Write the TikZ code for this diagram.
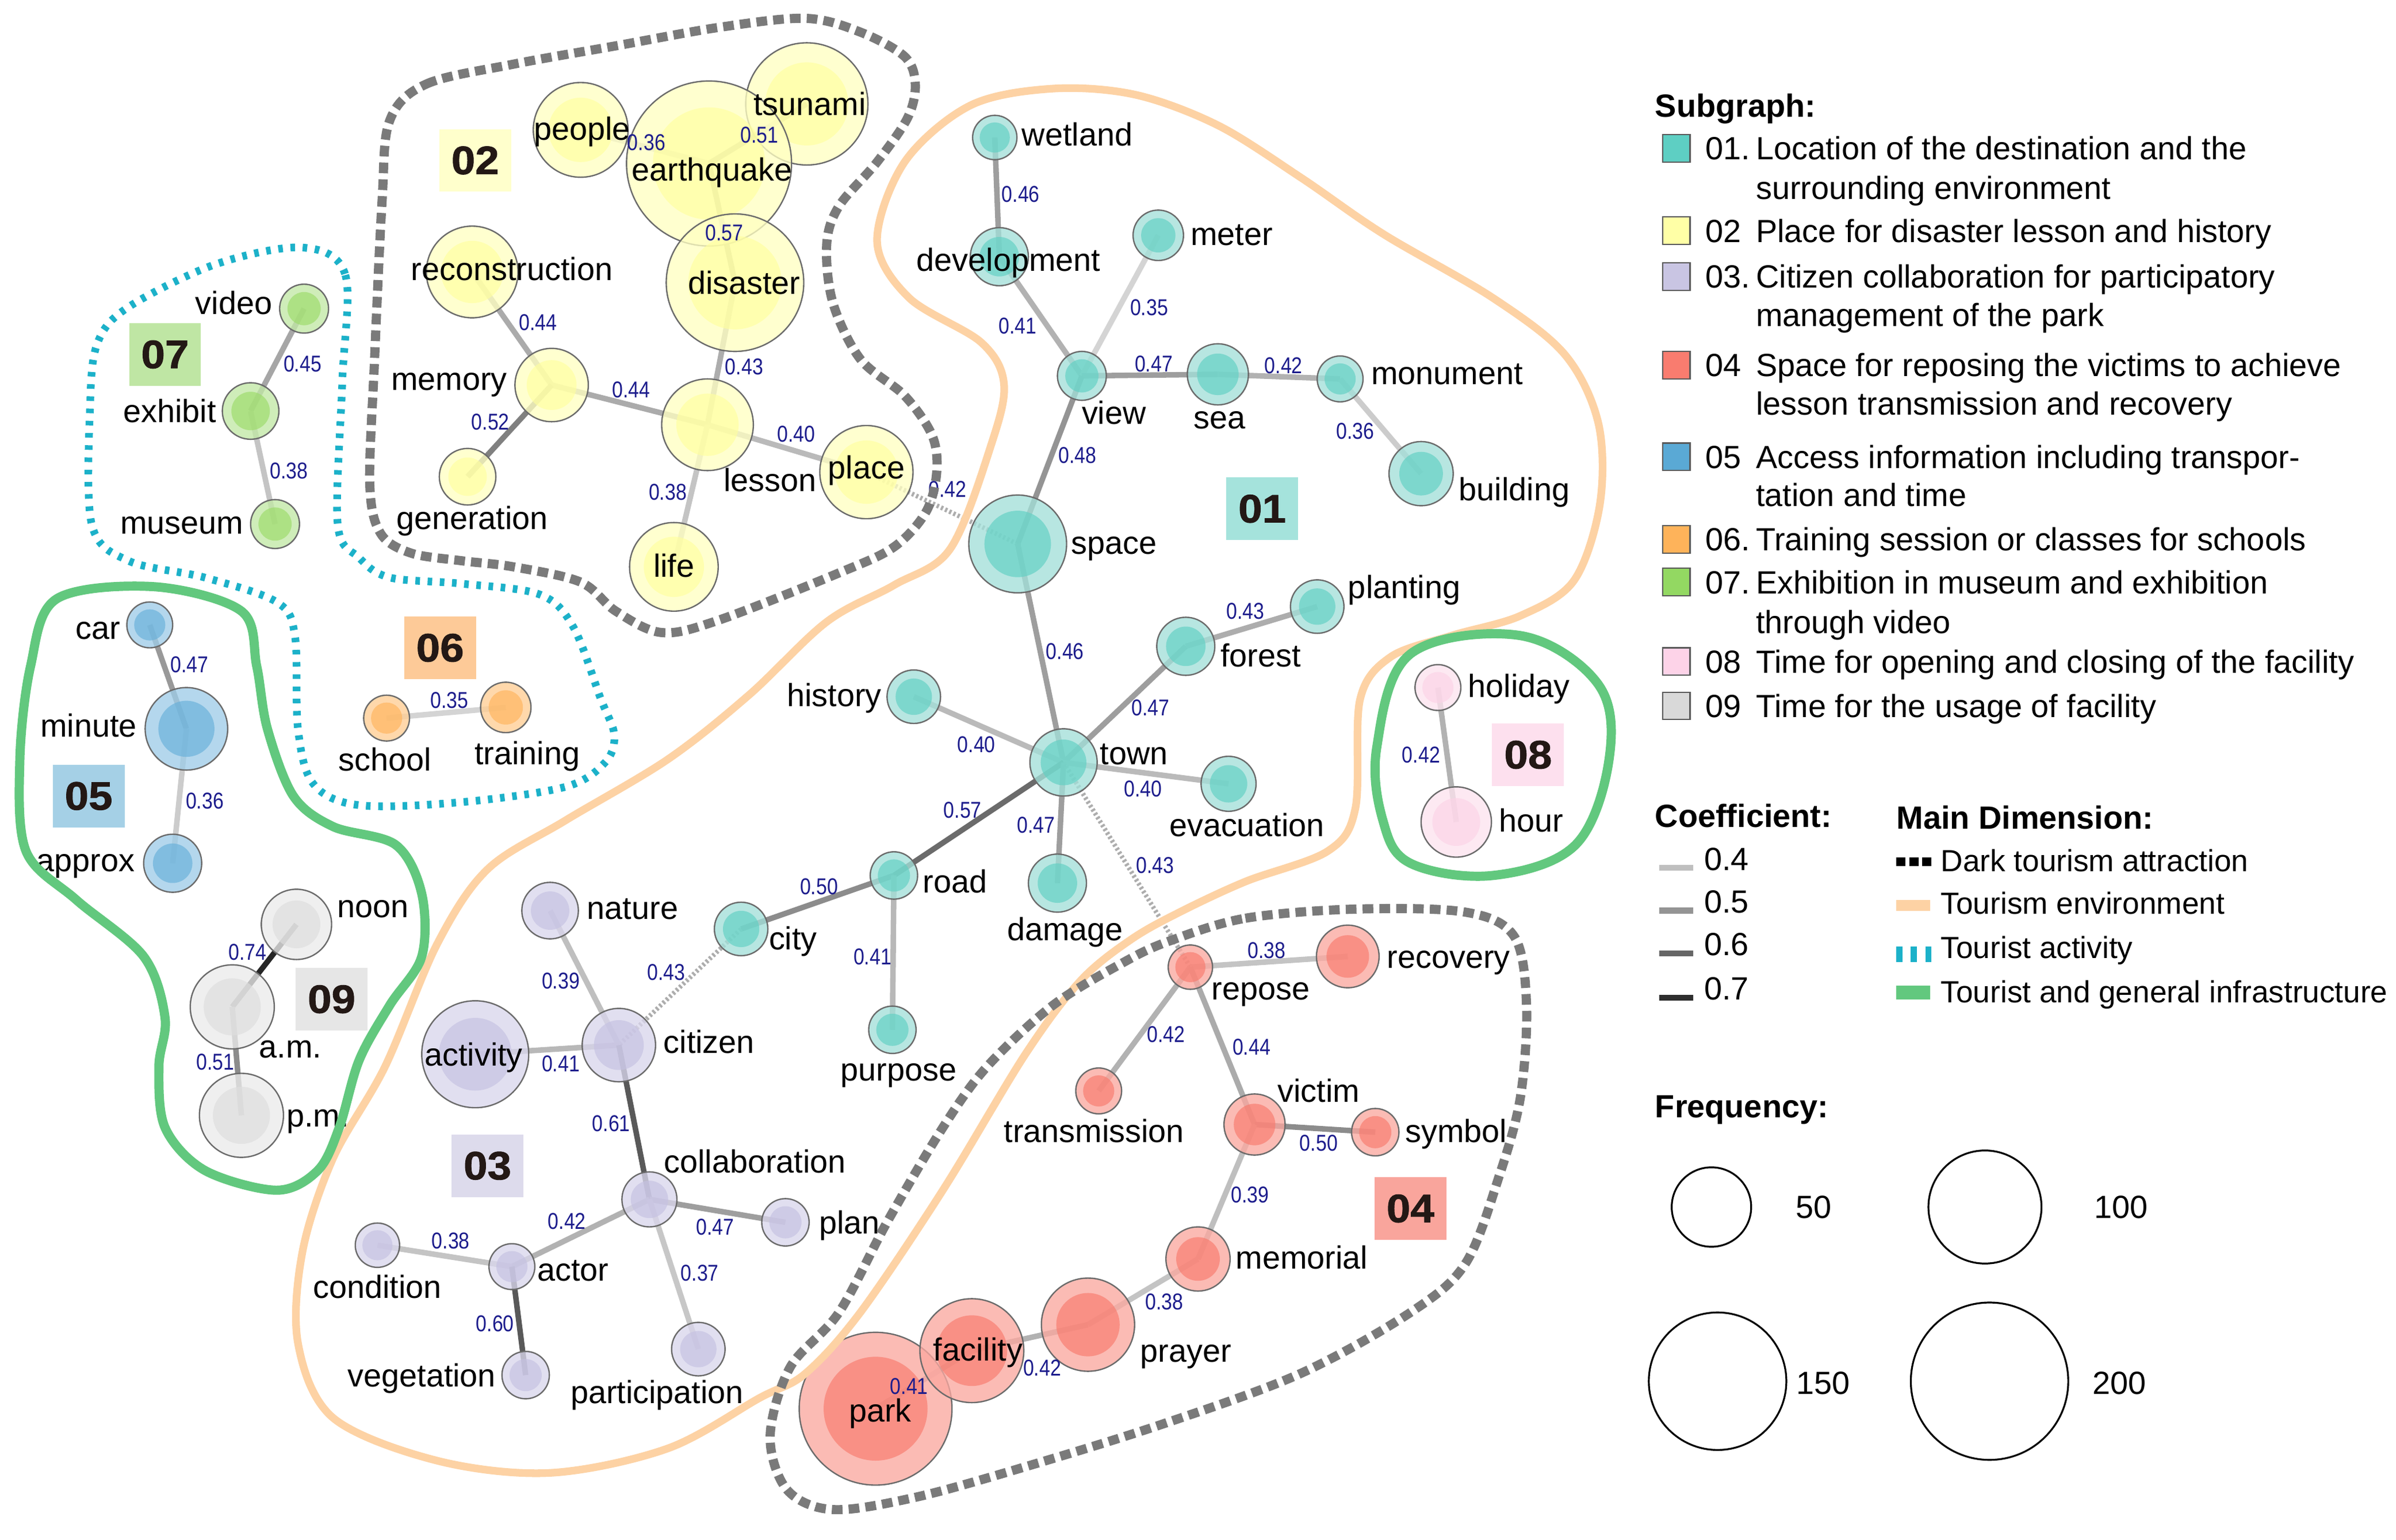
\documentclass[tikz,border=0pt]{standalone}
\usepackage{fontspec}
\setmainfont{Liberation Sans}
\newfontfamily\narrowfont[FakeStretch=0.85]{Liberation Sans}
\newfontfamily\heavyfont[BoldFeatures={FakeBold=1.3,FakeStretch=1.08}]{Liberation Sans}
\pgfdeclarelayer{bglayer}
\pgfdeclarelayer{edgelayer}
\pgfsetlayers{bglayer,edgelayer,main}
% bubble colours (o = outer ring, i = inner disk)
\definecolor{teo}{HTML}{A3E0D9}\definecolor{tei}{HTML}{5FD0C3}
\definecolor{yeo}{HTML}{FFFFC2}\definecolor{yei}{HTML}{FFFF9E}
\definecolor{puo}{HTML}{D9D6EC}\definecolor{pui}{HTML}{C5C1E2}
\definecolor{reo}{HTML}{FBA8A0}\definecolor{rei}{HTML}{F8796C}
\definecolor{blo}{HTML}{9FCDE8}\definecolor{bli}{HTML}{66B0DA}
\definecolor{oro}{HTML}{FFCE94}\definecolor{ori}{HTML}{FFB45C}
\definecolor{gno}{HTML}{C2E8A6}\definecolor{gni}{HTML}{9BDB68}
\definecolor{pko}{HTML}{FDE3EF}\definecolor{pki}{HTML}{FCD3E7}
\definecolor{gro}{HTML}{EBEBEB}\definecolor{gri}{HTML}{DEDEDE}
% id boxes
\definecolor{b01}{HTML}{A5E3DC}\definecolor{b02}{HTML}{FFFFCC}
\definecolor{b03}{HTML}{DDDBEC}\definecolor{b04}{HTML}{F9A59C}
\definecolor{b05}{HTML}{A5D0E6}\definecolor{b06}{HTML}{FDCA98}
\definecolor{b07}{HTML}{BFE6A4}\definecolor{b08}{HTML}{FDE0EE}
\definecolor{b09}{HTML}{E6E6E6}
% legend swatches
\definecolor{s01}{HTML}{5ECFC3}\definecolor{s02}{HTML}{FFFFA6}
\definecolor{s03}{HTML}{C9C5E3}\definecolor{s04}{HTML}{F97C6F}
\definecolor{s05}{HTML}{5AA9D5}\definecolor{s06}{HTML}{FEB35A}
\definecolor{s07}{HTML}{93D862}\definecolor{s08}{HTML}{FDD3E8}
\definecolor{s09}{HTML}{D9D9D9}
% boundaries, text
\definecolor{darkg}{HTML}{7A7A7A}\definecolor{envo}{HTML}{FDD2A4}
\definecolor{actc}{HTML}{1CB1C9}\definecolor{infg}{HTML}{62C87E}
\definecolor{idtext}{HTML}{231815}\definecolor{ecol}{HTML}{1C1C8C}
\tikzset{
 bubble/.style={circle, draw=black!58, line width=0.9pt, inner sep=0pt, outer sep=0pt, fill opacity=0.78},
 nlab/.style={font=\fontsize{21}{21}\selectfont, inner sep=0pt, text height=15.5pt, text depth=0.5pt},
 elab/.style={font=\narrowfont\fontsize{15}{15}\selectfont, text=ecol, inner sep=0pt, text height=10.7pt, text depth=0pt},
 idbox/.style={font=\heavyfont\bfseries\fontsize{26}{26}\selectfont, text=idtext, minimum width=47pt, minimum height=41pt, inner sep=0pt},
 edge/.style={line width=3.6pt},
 dotedge/.style={line width=3pt, draw=black!32, dash pattern=on 1.5pt off 1.5pt},
 darkb/.style={draw=darkg, line width=6pt, dash pattern=on 7pt off 4pt},
 envb/.style={draw=envo, line width=5pt},
 actb/.style={draw=actc, line width=5pt, dash pattern=on 3pt off 5pt},
 infb/.style={draw=infg, line width=6pt},
 legt/.style={font=\fontsize{21}{21}\selectfont, anchor=west, inner sep=0pt, text height=15.5pt, text depth=0.5pt},
 legs/.style={font=\fontsize{20}{20}\selectfont, anchor=west, inner sep=0pt, text height=15pt, text depth=0.5pt},
 legh/.style={font=\bfseries\fontsize{21}{21}\selectfont, anchor=west, inner sep=0pt, text height=15.5pt, text depth=0.5pt},
 swatch/.style={draw=black!65, line width=0.8pt, minimum size=18pt, inner sep=0pt},
 freq/.style={circle, draw=black, line width=1.2pt, inner sep=0pt},
}
\newcommand\bub[5]{%
  \node[bubble, minimum size=#4*2pt, fill=#5o] (#1) at (#2,#3) {};%
  \fill[#5i, fill opacity=0.65] (#1.center) circle[radius=#4*0.68pt];%
}
\newcommand\lab[4]{\node[nlab] (#1) at (#2,#3) {#4};}
\newcommand\edg[3]{\draw[edge, draw=black!#3] (#1.center) -- (#2.center);}
\newcommand\el[4]{\node[elab] (#1) at (#2,#3) {#4};}
\begin{document}
\begin{tikzpicture}[x=1pt,y=-1pt]
\useasboundingbox (0,0) rectangle (1568,1007.6);
\begin{pgfonlayer}{bglayer}
\fill[white] (0,0) rectangle (1568,1007.6);
\end{pgfonlayer}

% ---------------- nodes ----------------
% 02 yellow
\bub{people}{380}{85}{31}{ye}
\bub{tsunami}{528}{68}{40}{ye}
\bub{earthquake}{464}{107}{54}{ye}
\bub{disaster}{481}{185}{45}{ye}
\bub{reconstruction}{309}{178}{30}{ye}
\bub{memory}{361}{252}{24}{ye}
\bub{generation}{306}{312}{18.5}{ye}
\bub{lesson}{463}{278}{30}{ye}
\bub{place}{567}{309}{30.5}{ye}
\bub{life}{441}{371}{29}{ye}
% 01 teal
\bub{wetland}{651}{90}{14.5}{te}
\bub{development}{654}{168}{19}{te}
\bub{meter}{758}{154}{16.5}{te}
\bub{view}{708}{246}{16}{te}
\bub{sea}{797}{245}{20}{te}
\bub{monument}{877}{248}{15}{te}
\bub{building}{930}{310}{21}{te}
\bub{space}{666}{356}{32}{te}
\bub{planting}{862}{397}{17.5}{te}
\bub{forest}{776}{423}{19}{te}
\bub{history}{598}{456}{17.5}{te}
\bub{town}{696}{499}{22}{te}
\bub{evacuation}{804}{513}{18}{te}
\bub{road}{585}{573}{15.5}{te}
\bub{damage}{692}{578}{19}{te}
\bub{city}{485}{608}{17.5}{te}
\bub{purpose}{584}{674}{15.5}{te}
% 03 purple
\bub{nature}{360}{596}{18.5}{pu}
\bub{activity}{311}{690}{35}{pu}
\bub{citizen}{405}{684}{24}{pu}
\bub{collaboration}{425}{785}{18}{pu}
\bub{plan}{514}{800}{15.5}{pu}
\bub{condition}{247}{815}{14.5}{pu}
\bub{actor}{335}{829}{15}{pu}
\bub{vegetation}{344}{900}{15.5}{pu}
\bub{participation}{457}{883}{17.5}{pu}
% 04 red
\bub{repose}{779}{633}{14.5}{re}
\bub{recovery}{882}{626}{20.5}{re}
\bub{transmission}{719}{714}{15}{re}
\bub{victim}{821}{736}{20}{re}
\bub{symbol}{900}{741}{15.5}{re}
\bub{memorial}{784}{824}{21}{re}
\bub{prayer}{712}{867}{30.5}{re}
\bub{park}{573}{922}{50}{re}
\bub{facility}{636}{884}{34}{re}
% 05 blue
\bub{car}{98}{409}{15}{bl}
\bub{minute}{122}{477}{27}{bl}
\bub{approx}{113}{565}{19}{bl}
% 09 gray
\bub{noon}{194}{605}{23}{gr}
\bub{am}{152}{659}{27.5}{gr}
\bub{pm}{158}{730}{27.5}{gr}
% 07 green
\bub{video}{199}{202}{16}{gn}
\bub{exhibit}{164}{269}{18.5}{gn}
\bub{museum}{180}{343}{16}{gn}
% 06 orange
\bub{school}{253}{470}{15}{or}
\bub{training}{331}{463}{16.5}{or}
% 08 pink
\bub{holiday}{941}{450}{15}{pk}
\bub{hour}{953}{538}{23}{pk}

% ---------------- edges ----------------
\begin{pgfonlayer}{edgelayer}
\edg{people}{earthquake}{20}
\edg{earthquake}{tsunami}{45}
\edg{earthquake}{disaster}{55}
\edg{reconstruction}{memory}{33}
\edg{memory}{lesson}{33}
\edg{memory}{generation}{50}
\edg{disaster}{lesson}{32}
\edg{lesson}{place}{27}
\edg{lesson}{life}{23}
\draw[dotedge] (place.center) -- (space.center);
\edg{wetland}{development}{38}
\edg{development}{view}{30}
\edg{meter}{view}{17}
\edg{view}{sea}{38}
\edg{sea}{monument}{30}
\edg{monument}{building}{20}
\edg{view}{space}{42}
\edg{space}{town}{38}
\edg{forest}{planting}{32}
\edg{town}{forest}{38}
\edg{history}{town}{27}
\edg{town}{evacuation}{27}
\edg{town}{road}{58}
\edg{town}{damage}{38}
\draw[dotedge] (town.center) -- (repose.center);
\edg{road}{city}{45}
\edg{road}{purpose}{28}
\draw[dotedge] (city.center) -- (citizen.center);
\edg{nature}{citizen}{25}
\edg{activity}{citizen}{28}
\edg{citizen}{collaboration}{65}
\edg{collaboration}{actor}{30}
\edg{collaboration}{plan}{38}
\edg{condition}{actor}{23}
\edg{collaboration}{participation}{22}
\edg{actor}{vegetation}{65}
\edg{repose}{recovery}{23}
\edg{repose}{transmission}{30}
\edg{repose}{victim}{33}
\edg{victim}{symbol}{45}
\edg{victim}{memorial}{25}
\edg{memorial}{prayer}{23}
\edg{prayer}{facility}{30}
\edg{facility}{park}{28}
\edg{car}{minute}{40}
\edg{minute}{approx}{20}
\edg{noon}{am}{85}
\edg{am}{pm}{45}
\edg{video}{exhibit}{35}
\edg{exhibit}{museum}{23}
\edg{school}{training}{17}
\edg{holiday}{hour}{30}
\end{pgfonlayer}

% ---------------- node labels ----------------
\lab{t-people}{381}{84}{people}
\lab{t-earthquake}{466}{111}{earthquake}
\lab{t-tsunami}{530}{68}{tsunami}
\lab{t-disaster}{487}{185}{disaster}
\lab{t-reconstruction}{335}{176}{reconstruction}
\lab{t-memory}{294}{248}{memory}
\lab{t-generation}{309}{339}{generation}
\lab{t-lesson}{504}{314}{lesson}
\lab{t-place}{567}{306}{place}
\lab{t-life}{441}{370}{life}
\lab{t-wetland}{705}{88}{wetland}
\lab{t-development}{660}{170}{development}
\lab{t-meter}{806}{153}{meter}
\lab{t-view}{729}{270}{view}
\lab{t-sea}{798}{273}{sea}
\lab{t-monument}{947}{244}{monument}
\lab{t-building}{991}{320}{building}
\lab{t-space}{729}{355}{space}
\lab{t-planting}{919}{384}{planting}
\lab{t-forest}{825}{429}{forest}
\lab{t-history}{546}{455}{history}
\lab{t-town}{742}{493}{town}
\lab{t-evacuation}{816}{540}{evacuation}
\lab{t-road}{625}{577}{road}
\lab{t-damage}{697}{608}{damage}
\lab{t-city}{519}{614}{city}
\lab{t-purpose}{588}{700}{purpose}
\lab{t-nature}{414}{594}{nature}
\lab{t-activity}{310}{690}{activity}
\lab{t-citizen}{464}{682}{citizen}
\lab{t-collaboration}{494}{760}{collaboration}
\lab{t-plan}{556}{800}{plan}
\lab{t-condition}{247}{842}{condition}
\lab{t-actor}{375}{831}{actor}
\lab{t-vegetation}{276}{900}{vegetation}
\lab{t-participation}{430}{911}{participation}
\lab{t-repose}{825}{647}{repose}
\lab{t-recovery}{948}{626}{recovery}
\lab{t-transmission}{716}{740}{transmission}
\lab{t-victim}{863}{714}{victim}
\lab{t-symbol}{953}{740}{symbol}
\lab{t-memorial}{852}{823}{memorial}
\lab{t-prayer}{776}{884}{prayer}
\lab{t-facility}{640}{883}{facility}
\lab{t-park}{576}{923}{park}
\lab{t-car}{64}{411}{car}
\lab{t-minute}{58}{475}{minute}
\lab{t-approx}{56}{563}{approx}
\lab{t-noon}{244}{593}{noon}
\lab{t-am}{190}{685}{a.m.}
\lab{t-pm}{208}{730}{p.m.}
\lab{t-video}{153}{198}{video}
\lab{t-exhibit}{111}{269}{exhibit}
\lab{t-museum}{119}{342}{museum}
\lab{t-school}{252}{497}{school}
\lab{t-training}{345}{493}{training}
\lab{t-holiday}{994}{449}{holiday}
\lab{t-hour}{1002}{537}{hour}

% ---------------- edge labels ----------------
\el{k1}{423}{93}{0.36}
\el{k2}{497}{88}{0.51}
\el{k3}{474}{152}{0.57}
\el{k4}{352}{211}{0.44}
\el{k5}{413}{255}{0.44}
\el{k6}{321}{276}{0.52}
\el{k7}{487}{240}{0.43}
\el{k8}{521}{284}{0.40}
\el{k9}{437}{322}{0.38}
\el{k10}{620}{320}{0.42}
\el{k11}{198}{238}{0.45}
\el{k12}{189}{308}{0.38}
\el{k13}{668}{127}{0.46}
\el{k14}{666}{213}{0.41}
\el{k15}{752}{201}{0.35}
\el{k16}{755}{238}{0.47}
\el{k17}{840}{239}{0.42}
\el{k18}{887}{282}{0.36}
\el{k19}{705}{298}{0.48}
\el{k20}{697}{426}{0.46}
\el{k21}{815}{400}{0.43}
\el{k22}{753}{463}{0.47}
\el{k23}{639}{487}{0.40}
\el{k24}{748}{516}{0.40}
\el{k25}{630}{530}{0.57}
\el{k26}{678}{540}{0.47}
\el{k27}{756}{566}{0.43}
\el{k28}{536}{580}{0.50}
\el{k29}{571}{626}{0.41}
\el{k30}{436}{636}{0.43}
\el{k31}{367}{642}{0.39}
\el{k32}{367}{696}{0.41}
\el{k33}{400}{735}{0.61}
\el{k34}{371}{799}{0.42}
\el{k35}{468}{803}{0.47}
\el{k36}{295}{812}{0.38}
\el{k37}{458}{833}{0.37}
\el{k38}{324}{866}{0.60}
\el{k39}{829}{622}{0.38}
\el{k40}{763}{677}{0.42}
\el{k41}{819}{685}{0.44}
\el{k42}{863}{748}{0.50}
\el{k43}{818}{782}{0.39}
\el{k44}{762}{852}{0.38}
\el{k45}{682}{895}{0.42}
\el{k46}{595}{907}{0.41}
\el{k47}{124}{435}{0.47}
\el{k48}{134}{524}{0.36}
\el{k49}{162}{623}{0.74}
\el{k50}{141}{695}{0.51}
\el{k51}{294}{458}{0.35}
\el{k52}{930}{494}{0.42}

% ---------------- cluster id boxes ----------------
\node[idbox, fill=b01] (id01) at (826,333) {01};
\node[idbox, fill=b02] (id02) at (311,105) {02};
\node[idbox, fill=b03] (id03) at (319,763) {03};
\node[idbox, fill=b04] (id04) at (923,791) {04};
\node[idbox, fill=b05] (id05) at (58,521) {05};
\node[idbox, fill=b06] (id06) at (288,424) {06};
\node[idbox, fill=b07] (id07) at (108,232) {07};
\node[idbox, fill=b08] (id08) at (1000,494) {08};
\node[idbox, fill=b09] (id09) at (217,654) {09};

% ---------------- dimension boundaries ----------------
% tourism environment (orange)
\draw[envb] plot[smooth cycle, tension=0.55] coordinates {
 (635,69) (689,58) (743,62) (797,82) (851,116) (905,153) (977,195) (1024,232)
 (1046,277) (1047,330) (1030,380) (995,403) (950,416) (910,430) (890,458)
 (887,529) (869,557) (815,577) (772,597) (740,615) (707,642) (671,690)
 (617,779) (563,859) (527,899) (497,915) (437,948) (360,964) (286,956)
 (218,928) (195,879) (198,819) (218,758) (252,698) (286,618) (319,569)
 (370,537) (437,497) (490,455) (541,407) (585,383) (622,359) (649,290)
 (657,251) (642,224) (595,195) (574,158) (592,106)};
% dark tourism attraction (02)
\draw[darkb] plot[smooth cycle, tension=0.55] coordinates {
 (255,79) (279,55) (336,42) (403,30) (470,18) (527,12) (563,21) (592,37)
 (599,55) (594,77) (574,106) (549,135) (541,160) (545,198) (563,235) (592,259)
 (610,285) (613,309) (606,335) (585,358) (549,375) (470,406) (433,414)
 (403,400) (380,381) (336,371) (302,367) (269,362) (249,349) (242,317)
 (245,238) (250,132)};
% dark tourism attraction (04)
\draw[darkb] plot[smooth cycle, tension=0.55] coordinates {
 (765,616) (815,601) (887,595) (959,597) (991,613) (999,658) (995,718)
 (981,770) (959,827) (923,859) (851,899) (761,932) (671,960) (599,980)
 (545,988) (515,975) (504,940) (517,895) (549,859) (581,799) (617,738)
 (646,698) (689,658) (735,630)};
% tourist activity (cyan dotted)
\draw[actb] plot[smooth cycle, tension=0.55] coordinates {
 (198,162) (226,180) (224,250) (221,343) (235,365) (255,378) (302,382)
 (353,389) (375,410) (393,457) (402,481) (396,499) (370,515) (302,525)
 (235,527) (205,513) (195,477) (193,416) (181,394) (134,378) (84,367)
 (60,343) (59,264) (64,224) (84,201) (141,173)};
% tourist and general infrastructure (green)
\draw[infb] plot[smooth cycle, tension=0.55] coordinates {
 (37,392) (101,384) (158,400) (168,436) (175,477) (192,521) (218,541)
 (259,553) (276,585) (276,626) (255,658) (235,694) (222,738) (208,766)
 (181,779) (134,766) (108,738) (104,698) (108,666) (94,626) (50,589)
 (17,557) (13,497) (20,436)};
\draw[infb] plot[smooth cycle, tension=0.6] coordinates {
 (901,489) (923,428) (995,416) (1046,448) (1053,497) (1031,553) (977,573)
 (923,565) (905,537)};

% ---------------- legend ----------------
\node[legh] (hsub) at (1083,69) {Subgraph:};
\node[swatch, fill=s01] (sw1) at (1097,97) {};
\node[legt] (n1) at (1116,97) {01.};
\node[legt] (d1a) at (1149,97) {Location of the destination and the};
\node[legt] (d1b) at (1149,123) {surrounding environment};
\node[swatch, fill=s02] (sw2) at (1097,151) {};
\node[legt] (n2) at (1116,151) {02};
\node[legt] (d2) at (1149,151) {Place for disaster lesson and history};
\node[swatch, fill=s03] (sw3) at (1097,181) {};
\node[legt] (n3) at (1116,181) {03.};
\node[legt] (d3a) at (1149,181) {Citizen collaboration for participatory};
\node[legt] (d3b) at (1149,206) {management of the park};
\node[swatch, fill=s04] (sw4) at (1097,239) {};
\node[legt] (n4) at (1116,239) {04};
\node[legt] (d4a) at (1149,239) {Space for reposing the victims to achieve};
\node[legt] (d4b) at (1149,264) {lesson transmission and recovery};
\node[swatch, fill=s05] (sw5) at (1097,299) {};
\node[legt] (n5) at (1116,299) {05};
\node[legt] (d5a) at (1149,299) {Access information including transpor-};
\node[legt] (d5b) at (1149,324) {tation and time};
\node[swatch, fill=s06] (sw6) at (1097,353) {};
\node[legt] (n6) at (1116,353) {06.};
\node[legt] (d6) at (1149,353) {Training session or classes for schools};
\node[swatch, fill=s07] (sw7) at (1097,381) {};
\node[legt] (n7) at (1116,381) {07.};
\node[legt] (d7a) at (1149,381) {Exhibition in museum and exhibition};
\node[legt] (d7b) at (1149,407) {through video};
\node[swatch, fill=s08] (sw8) at (1097,433) {};
\node[legt] (n8) at (1116,433) {08};
\node[legt] (d8) at (1149,433) {Time for opening and closing of the facility};
\node[swatch, fill=s09] (sw9) at (1097,462) {};
\node[legt] (n9) at (1116,462) {09};
\node[legt] (d9) at (1149,462) {Time for the usage of facility};

\node[legh] (hcoef) at (1083,534) {Coefficient:};
\coordinate (c4a) at (1086,568); \coordinate (c4b) at (1108,568);
\coordinate (c5a) at (1086,596); \coordinate (c5b) at (1108,596);
\coordinate (c6a) at (1086,624); \coordinate (c6b) at (1108,624);
\coordinate (c7a) at (1086,653); \coordinate (c7b) at (1108,653);
\draw[line width=4pt, draw=black!25] (c4a) -- (c4b);
\draw[line width=4pt, draw=black!42] (c5a) -- (c5b);
\draw[line width=4pt, draw=black!60] (c6a) -- (c6b);
\draw[line width=4pt, draw=black!82] (c7a) -- (c7b);
\node[legt] (v4) at (1115,562) {0.4};
\node[legt] (v5) at (1115,590) {0.5};
\node[legt] (v6) at (1115,618) {0.6};
\node[legt] (v7) at (1115,647) {0.7};

\node[legh] (hdim) at (1241,535) {Main Dimension:};
\coordinate (m1a) at (1241,564); \coordinate (m1b) at (1264,564);
\coordinate (m3a) at (1241,624.5); \coordinate (m3b) at (1266,624.5);
\draw[line width=6pt, draw=black, dash pattern=on 6pt off 2.5pt] (m1a) -- (m1b);
\fill[envo] (1241,589) rectangle (1263,596);
\draw[line width=10pt, draw=actc, dash pattern=on 4pt off 5.5pt] (m3a) -- (m3b);
\fill[infg] (1241,645) rectangle (1263,654);
\node[legs] (w1) at (1270,563) {Dark tourism attraction};
\node[legs] (w2) at (1270,591) {Tourism environment};
\node[legs] (w3) at (1270,620) {Tourist activity};
\node[legs] (w4) at (1270,649) {Tourist and general infrastructure};

\node[legh] (hfreq) at (1083,724) {Frequency:};
\node[freq, minimum size=52pt] (f50) at (1120,790) {};
\node[freq, minimum size=74pt] (f100) at (1299,790) {};
\node[freq, minimum size=90pt] (f150) at (1124,904) {};
\node[freq, minimum size=103pt] (f200) at (1302,904) {};
\node[nlab] (tf50) at (1187,790) {50};
\node[nlab] (tf100) at (1388,790) {100};
\node[nlab] (tf150) at (1193,905) {150};
\node[nlab] (tf200) at (1387,905) {200};
\end{tikzpicture}
\end{document}
